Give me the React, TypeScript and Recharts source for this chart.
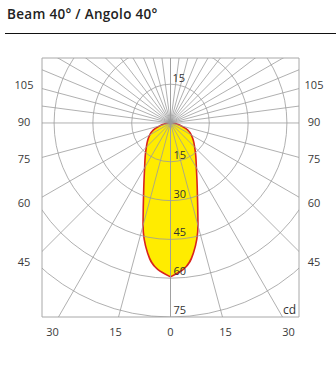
import {
  ComposedChart,
  Area,
  XAxis,
  YAxis,
  ReferenceLine,
  ReferenceDot,
  ReferenceArea,
} from "recharts";

// polar curve: angle from nadir (deg) -> intensity (cd)
const ANGLES = [0, 5, 10, 15, 20, 25, 30, 35, 40, 45, 50, 55, 60, 65, 70, 75, 80, 85, 90];
const CANDELA = [59.5, 56.8, 51, 41, 30.5, 24.2, 20, 17.2, 15, 13.2, 11.8, 10.5, 9.3, 8, 6.2, 4.3, 2.8, 1.4, 0.5];

const RINGS = [15, 30, 45, 60, 75];
const LOWER_RAYS = [0, 15, 30, 45, 60, 75, 90];
const UPPER_RAYS = [97.5, 105, 112.5, 120, 127.5, 135, 142.5, 150, 157.5, 165, 172.5, 180];
const SIDE_LABELS = [105, 90, 75, 60, 45];
const BOTTOM_LABELS = [-30, -15, 0, 15, 30];

const W = 336;
const H = 369;
const X_HALF = 49.67;
const Y_DOMAIN: [number, number] = [-25.12, 75];
const PX_PER_CD = 257 / (2 * X_HALF);
const SIDE_REACH = 54; // where the side angle labels sit (cd units from centre)

const FONT = "'Open Sans', 'DejaVu Sans', sans-serif";
const GRID = "#9c9c9c";

const rad = (deg: number) => (deg * Math.PI) / 180;

// y grows downwards (vertical layout)
const toPlane = (deg: number, r: number, side: number) => ({
  x: side * r * Math.sin(rad(deg)),
  y: r * Math.cos(rad(deg)),
});

const lobe = ANGLES.map((a, i) => {
  const p = toPlane(a, CANDELA[i], 1);
  return { d: p.y, span: [-p.x, p.x] };
}).reverse();

const rays = [...LOWER_RAYS, ...UPPER_RAYS].flatMap((a) =>
  [-1, 1].map((side) => ({ a, side }))
);

const sideTicks = SIDE_LABELS.map((a) => SIDE_REACH / Math.tan(rad(a)));
const sideLabel = (v: number) =>
  Math.round(90 - (Math.atan(v / SIDE_REACH) * 180) / Math.PI);

const bottomTicks = BOTTOM_LABELS.map((a) => 75 * Math.tan(rad(a)));
const bottomLabel = (v: number) =>
  Math.round((Math.atan(v / 75) * 180) / Math.PI);

const SideTick = ({ x, y, payload, shift }: any) => (
  <text
    x={x + shift}
    y={y}
    dy={3}
    textAnchor="middle"
    fontSize={11}
    fontFamily={FONT}
    fill="#3a3a3a"
  >
    {sideLabel(payload.value)}
  </text>
);

const BottomTick = ({ x, y, payload }: any) => {
  const a = bottomLabel(payload.value);
  return (
    <text
      x={x + a / 5}
      y={y + 19}
      textAnchor="middle"
      fontSize={11}
      fontFamily={FONT}
      fill="#3a3a3a"
    >
      {Math.abs(a)}
    </text>
  );
};

const labelStyle = { fontSize: 11, fill: "#333", fontFamily: FONT };

export default function App() {
  return (
    <div
      style={{
        position: "absolute",
        left: 0,
        top: 0,
        width: W,
        height: H,
        background: "#fff",
      }}
    >
      <div
        style={{
          position: "absolute",
          left: 7,
          top: 6,
          fontFamily: FONT,
          fontWeight: 600,
          fontSize: 13.5,
          letterSpacing: 0.3,
          lineHeight: "16px",
          color: "#222",
          whiteSpace: "nowrap",
        }}
      >
        Beam 40° / Angolo 40°
      </div>
      <div
        style={{
          position: "absolute",
          left: 5,
          right: 0,
          top: 33,
          borderTop: "1.5px solid #111",
        }}
      />
      <div style={{ position: "absolute", left: 0, top: 0 }}>
        <ComposedChart
          width={W}
          height={H}
          layout="vertical"
          data={lobe}
          margin={{ top: 58, right: 0, bottom: 0, left: 0 }}
        >
          <XAxis
            type="number"
            domain={[-X_HALF, X_HALF]}
            allowDataOverflow
            ticks={bottomTicks}
            interval={0}
            height={52}
            axisLine={false}
            tickLine={false}
            tickSize={0}
            tickMargin={0}
            tick={(p: any) => <BottomTick {...p} />}
          />
          <YAxis
            yAxisId="left"
            type="number"
            dataKey="d"
            domain={Y_DOMAIN}
            allowDataOverflow
            ticks={sideTicks}
            interval={0}
            width={42}
            axisLine={false}
            tickLine={false}
            tickSize={0}
            tickMargin={0}
            tick={(p: any) => <SideTick {...p} shift={-18} />}
          />
          <YAxis
            yAxisId="right"
            orientation="right"
            type="number"
            dataKey="d"
            domain={Y_DOMAIN}
            allowDataOverflow
            ticks={sideTicks}
            interval={0}
            width={37}
            axisLine={false}
            tickLine={false}
            tickSize={0}
            tickMargin={0}
            tick={(p: any) => <SideTick {...p} shift={15} />}
          />

          <Area
            yAxisId="left"
            dataKey="span"
            type="monotone"
            fill="#ffec00"
            fillOpacity={1}
            stroke="#d9241c"
            strokeWidth={1.6}
            dot={false}
            activeDot={false}
            isAnimationActive={false}
          />

          {RINGS.map((r) => (
            <ReferenceDot
              key={`ring${r}`}
              yAxisId="left"
              x={0}
              y={0}
              r={r * PX_PER_CD}
              fill="none"
              stroke={GRID}
              strokeWidth={0.8}
              ifOverflow="hidden"
            />
          ))}

          {rays.map(({ a, side }) => (
            <ReferenceLine
              key={`ray${a}_${side}`}
              yAxisId="left"
              segment={[{ x: 0, y: 0 }, toPlane(a, 140, side)]}
              stroke={GRID}
              strokeWidth={0.8}
              ifOverflow="hidden"
            />
          ))}

          <ReferenceArea
            yAxisId="left"
            x1={-X_HALF}
            x2={X_HALF}
            y1={Y_DOMAIN[0]}
            y2={Y_DOMAIN[1]}
            fill="none"
            stroke="#a8a8a8"
            strokeWidth={1}
            ifOverflow="visible"
          />

          <ReferenceDot
            yAxisId="left"
            x={0}
            y={-RINGS[0]}
            r={0}
            fill="none"
            stroke="none"
            label={{ value: String(RINGS[0]), position: "insideBottomLeft", offset: 2, ...labelStyle }}
          />
          {RINGS.map((r) => (
            <ReferenceDot
              key={`lab${r}`}
              yAxisId="left"
              x={0}
              y={r}
              r={0}
              fill="none"
              stroke="none"
              ifOverflow="visible"
              label={{ value: String(r), position: "insideBottomLeft", offset: 3, ...labelStyle }}
            />
          ))}
          <ReferenceDot
            yAxisId="left"
            x={X_HALF}
            y={Y_DOMAIN[1]}
            r={0}
            fill="none"
            stroke="none"
            ifOverflow="visible"
            label={{ value: "cd", position: "insideBottomRight", offset: 3, ...labelStyle, fontSize: 12 }}
          />
        </ComposedChart>
      </div>
    </div>
  );
}
